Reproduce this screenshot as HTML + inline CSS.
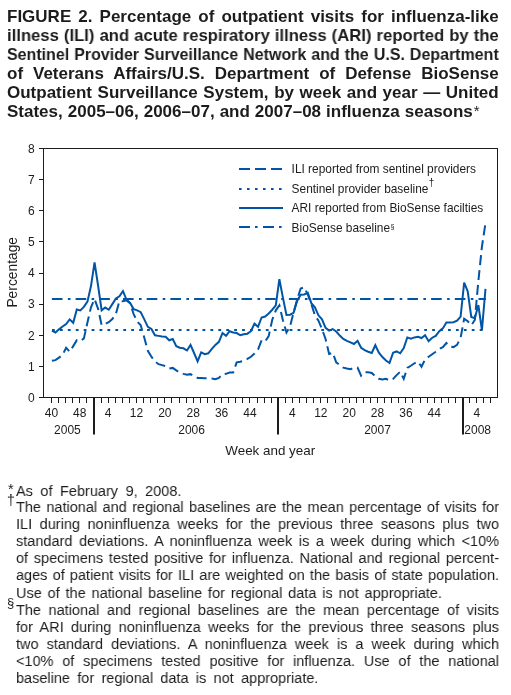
<!DOCTYPE html><html><head><meta charset="utf-8"><style>
html,body{margin:0;padding:0;background:#fff;}
body{width:511px;height:695px;position:relative;overflow:hidden;font-family:"Liberation Sans",sans-serif;color:#1c1c1c;}
svg{position:absolute;left:0;top:0;will-change:transform;}
.tk{font-family:"Liberation Sans",sans-serif;font-size:12px;fill:#1c1c1c;}
.ax{font-family:"Liberation Sans",sans-serif;font-size:13.5px;fill:#1c1c1c;}
.lg{font-family:"Liberation Sans",sans-serif;font-size:11.9px;fill:#1c1c1c;}
.t{position:absolute;will-change:transform;font-weight:bold;font-size:17px;line-height:0;height:0;white-space:nowrap;transform-origin:0 0;}
.f{position:absolute;will-change:transform;font-size:15.5px;line-height:0;height:0;white-space:nowrap;transform-origin:0 0;}
.j{text-align:justify;text-align-last:justify;}
.m{position:absolute;will-change:transform;line-height:0;height:0;}
</style></head><body>
<svg width="511" height="695" viewBox="0 0 511 695"><rect x="43.5" y="148.5" width="454" height="249" fill="none" stroke="#1c1c1c" stroke-width="1"/><line x1="39" y1="397.5" x2="43.5" y2="397.5" stroke="#1c1c1c" stroke-width="1"/><text x="34.6" y="401.8" class="tk" text-anchor="end">0</text><line x1="39" y1="366.5" x2="43.5" y2="366.5" stroke="#1c1c1c" stroke-width="1"/><text x="34.6" y="370.7" class="tk" text-anchor="end">1</text><line x1="39" y1="335.5" x2="43.5" y2="335.5" stroke="#1c1c1c" stroke-width="1"/><text x="34.6" y="339.6" class="tk" text-anchor="end">2</text><line x1="39" y1="304.5" x2="43.5" y2="304.5" stroke="#1c1c1c" stroke-width="1"/><text x="34.6" y="308.4" class="tk" text-anchor="end">3</text><line x1="39" y1="273.5" x2="43.5" y2="273.5" stroke="#1c1c1c" stroke-width="1"/><text x="34.6" y="277.3" class="tk" text-anchor="end">4</text><line x1="39" y1="241.5" x2="43.5" y2="241.5" stroke="#1c1c1c" stroke-width="1"/><text x="34.6" y="246.2" class="tk" text-anchor="end">5</text><line x1="39" y1="210.5" x2="43.5" y2="210.5" stroke="#1c1c1c" stroke-width="1"/><text x="34.6" y="215.1" class="tk" text-anchor="end">6</text><line x1="39" y1="179.5" x2="43.5" y2="179.5" stroke="#1c1c1c" stroke-width="1"/><text x="34.6" y="183.9" class="tk" text-anchor="end">7</text><line x1="39" y1="148.5" x2="43.5" y2="148.5" stroke="#1c1c1c" stroke-width="1"/><text x="34.6" y="152.8" class="tk" text-anchor="end">8</text><line x1="51.5" y1="397.5" x2="51.5" y2="403" stroke="#1c1c1c" stroke-width="1"/><line x1="58.5" y1="397.5" x2="58.5" y2="403" stroke="#1c1c1c" stroke-width="1"/><line x1="65.5" y1="397.5" x2="65.5" y2="403" stroke="#1c1c1c" stroke-width="1"/><line x1="72.5" y1="397.5" x2="72.5" y2="403" stroke="#1c1c1c" stroke-width="1"/><line x1="79.5" y1="397.5" x2="79.5" y2="403" stroke="#1c1c1c" stroke-width="1"/><line x1="86.5" y1="397.5" x2="86.5" y2="403" stroke="#1c1c1c" stroke-width="1"/><line x1="101.5" y1="397.5" x2="101.5" y2="403" stroke="#1c1c1c" stroke-width="1"/><line x1="108.5" y1="397.5" x2="108.5" y2="403" stroke="#1c1c1c" stroke-width="1"/><line x1="115.5" y1="397.5" x2="115.5" y2="403" stroke="#1c1c1c" stroke-width="1"/><line x1="122.5" y1="397.5" x2="122.5" y2="403" stroke="#1c1c1c" stroke-width="1"/><line x1="129.5" y1="397.5" x2="129.5" y2="403" stroke="#1c1c1c" stroke-width="1"/><line x1="136.5" y1="397.5" x2="136.5" y2="403" stroke="#1c1c1c" stroke-width="1"/><line x1="143.5" y1="397.5" x2="143.5" y2="403" stroke="#1c1c1c" stroke-width="1"/><line x1="150.5" y1="397.5" x2="150.5" y2="403" stroke="#1c1c1c" stroke-width="1"/><line x1="157.5" y1="397.5" x2="157.5" y2="403" stroke="#1c1c1c" stroke-width="1"/><line x1="164.5" y1="397.5" x2="164.5" y2="403" stroke="#1c1c1c" stroke-width="1"/><line x1="171.5" y1="397.5" x2="171.5" y2="403" stroke="#1c1c1c" stroke-width="1"/><line x1="179.5" y1="397.5" x2="179.5" y2="403" stroke="#1c1c1c" stroke-width="1"/><line x1="186.5" y1="397.5" x2="186.5" y2="403" stroke="#1c1c1c" stroke-width="1"/><line x1="193.5" y1="397.5" x2="193.5" y2="403" stroke="#1c1c1c" stroke-width="1"/><line x1="200.5" y1="397.5" x2="200.5" y2="403" stroke="#1c1c1c" stroke-width="1"/><line x1="207.5" y1="397.5" x2="207.5" y2="403" stroke="#1c1c1c" stroke-width="1"/><line x1="214.5" y1="397.5" x2="214.5" y2="403" stroke="#1c1c1c" stroke-width="1"/><line x1="221.5" y1="397.5" x2="221.5" y2="403" stroke="#1c1c1c" stroke-width="1"/><line x1="228.5" y1="397.5" x2="228.5" y2="403" stroke="#1c1c1c" stroke-width="1"/><line x1="235.5" y1="397.5" x2="235.5" y2="403" stroke="#1c1c1c" stroke-width="1"/><line x1="242.5" y1="397.5" x2="242.5" y2="403" stroke="#1c1c1c" stroke-width="1"/><line x1="249.5" y1="397.5" x2="249.5" y2="403" stroke="#1c1c1c" stroke-width="1"/><line x1="257.5" y1="397.5" x2="257.5" y2="403" stroke="#1c1c1c" stroke-width="1"/><line x1="264.5" y1="397.5" x2="264.5" y2="403" stroke="#1c1c1c" stroke-width="1"/><line x1="271.5" y1="397.5" x2="271.5" y2="403" stroke="#1c1c1c" stroke-width="1"/><line x1="285.5" y1="397.5" x2="285.5" y2="403" stroke="#1c1c1c" stroke-width="1"/><line x1="292.5" y1="397.5" x2="292.5" y2="403" stroke="#1c1c1c" stroke-width="1"/><line x1="299.5" y1="397.5" x2="299.5" y2="403" stroke="#1c1c1c" stroke-width="1"/><line x1="306.5" y1="397.5" x2="306.5" y2="403" stroke="#1c1c1c" stroke-width="1"/><line x1="313.5" y1="397.5" x2="313.5" y2="403" stroke="#1c1c1c" stroke-width="1"/><line x1="320.5" y1="397.5" x2="320.5" y2="403" stroke="#1c1c1c" stroke-width="1"/><line x1="327.5" y1="397.5" x2="327.5" y2="403" stroke="#1c1c1c" stroke-width="1"/><line x1="335.5" y1="397.5" x2="335.5" y2="403" stroke="#1c1c1c" stroke-width="1"/><line x1="342.5" y1="397.5" x2="342.5" y2="403" stroke="#1c1c1c" stroke-width="1"/><line x1="349.5" y1="397.5" x2="349.5" y2="403" stroke="#1c1c1c" stroke-width="1"/><line x1="356.5" y1="397.5" x2="356.5" y2="403" stroke="#1c1c1c" stroke-width="1"/><line x1="363.5" y1="397.5" x2="363.5" y2="403" stroke="#1c1c1c" stroke-width="1"/><line x1="370.5" y1="397.5" x2="370.5" y2="403" stroke="#1c1c1c" stroke-width="1"/><line x1="377.5" y1="397.5" x2="377.5" y2="403" stroke="#1c1c1c" stroke-width="1"/><line x1="384.5" y1="397.5" x2="384.5" y2="403" stroke="#1c1c1c" stroke-width="1"/><line x1="391.5" y1="397.5" x2="391.5" y2="403" stroke="#1c1c1c" stroke-width="1"/><line x1="398.5" y1="397.5" x2="398.5" y2="403" stroke="#1c1c1c" stroke-width="1"/><line x1="405.5" y1="397.5" x2="405.5" y2="403" stroke="#1c1c1c" stroke-width="1"/><line x1="412.5" y1="397.5" x2="412.5" y2="403" stroke="#1c1c1c" stroke-width="1"/><line x1="420.5" y1="397.5" x2="420.5" y2="403" stroke="#1c1c1c" stroke-width="1"/><line x1="427.5" y1="397.5" x2="427.5" y2="403" stroke="#1c1c1c" stroke-width="1"/><line x1="434.5" y1="397.5" x2="434.5" y2="403" stroke="#1c1c1c" stroke-width="1"/><line x1="441.5" y1="397.5" x2="441.5" y2="403" stroke="#1c1c1c" stroke-width="1"/><line x1="448.5" y1="397.5" x2="448.5" y2="403" stroke="#1c1c1c" stroke-width="1"/><line x1="455.5" y1="397.5" x2="455.5" y2="403" stroke="#1c1c1c" stroke-width="1"/><line x1="469.5" y1="397.5" x2="469.5" y2="403" stroke="#1c1c1c" stroke-width="1"/><line x1="476.5" y1="397.5" x2="476.5" y2="403" stroke="#1c1c1c" stroke-width="1"/><line x1="483.5" y1="397.5" x2="483.5" y2="403" stroke="#1c1c1c" stroke-width="1"/><line x1="490.5" y1="397.5" x2="490.5" y2="403" stroke="#1c1c1c" stroke-width="1"/><line x1="94.00" y1="397" x2="94.00" y2="434.5" stroke="#1c1c1c" stroke-width="2"/><line x1="278.00" y1="397" x2="278.00" y2="434.5" stroke="#1c1c1c" stroke-width="2"/><line x1="463.00" y1="397" x2="463.00" y2="434.5" stroke="#1c1c1c" stroke-width="2"/><text x="51.40" y="417.4" class="tk" text-anchor="middle">40</text><text x="79.76" y="417.4" class="tk" text-anchor="middle">48</text><text x="108.12" y="417.4" class="tk" text-anchor="middle">4</text><text x="136.48" y="417.4" class="tk" text-anchor="middle">12</text><text x="164.84" y="417.4" class="tk" text-anchor="middle">20</text><text x="193.20" y="417.4" class="tk" text-anchor="middle">28</text><text x="221.56" y="417.4" class="tk" text-anchor="middle">36</text><text x="249.92" y="417.4" class="tk" text-anchor="middle">44</text><text x="292.46" y="417.4" class="tk" text-anchor="middle">4</text><text x="320.82" y="417.4" class="tk" text-anchor="middle">12</text><text x="349.18" y="417.4" class="tk" text-anchor="middle">20</text><text x="377.54" y="417.4" class="tk" text-anchor="middle">28</text><text x="405.90" y="417.4" class="tk" text-anchor="middle">36</text><text x="434.26" y="417.4" class="tk" text-anchor="middle">44</text><text x="476.80" y="417.4" class="tk" text-anchor="middle">4</text><text x="67.40" y="434.4" class="tk" text-anchor="middle">2005</text><text x="191.60" y="434.4" class="tk" text-anchor="middle">2006</text><text x="377.50" y="434.4" class="tk" text-anchor="middle">2007</text><text x="477.70" y="434.4" class="tk" text-anchor="middle">2008</text><text x="270.2" y="454.8" class="ax" style="font-size:13.4px" text-anchor="middle">Week and year</text><text transform="translate(16.9,272.3) rotate(-90)" class="ax" style="font-size:13.8px" text-anchor="middle">Percentage</text><line x1="52.0" y1="330" x2="483" y2="330" stroke="#0055a6" stroke-width="2" stroke-dasharray="2.8 5.12"/><line x1="51.9" y1="299" x2="486" y2="299" stroke="#0055a6" stroke-width="2" stroke-dasharray="10.6 5.4 2.6 5.1"/><polyline points="51.90,330.58 55.45,332.45 59.01,329.34 62.56,326.54 66.12,324.05 69.67,319.38 73.22,322.80 76.78,309.42 80.33,310.35 83.89,306.93 87.44,301.63 90.99,286.07 94.55,262.42 98.10,285.76 101.66,310.35 105.21,307.55 108.76,309.73 112.32,304.12 115.87,298.52 119.43,296.34 122.98,291.05 126.53,299.77 130.09,302.88 133.64,309.11 137.20,310.35 140.75,312.22 144.30,319.38 147.86,326.85 151.41,329.02 154.97,335.25 158.52,335.87 162.07,336.50 165.63,336.81 169.18,340.23 172.74,338.99 176.29,346.14 179.84,347.70 183.40,348.32 186.95,350.50 190.51,344.90 194.06,352.99 197.61,361.39 201.17,352.37 204.72,354.24 208.28,353.30 211.83,348.94 215.38,344.90 218.94,341.79 222.49,333.07 226.05,335.87 229.60,331.20 233.15,332.45 236.71,333.07 240.26,335.25 243.82,334.32 247.37,333.69 250.92,331.20 254.48,323.73 258.03,326.85 261.59,317.51 265.14,316.57 268.69,313.46 272.25,309.73 275.80,305.37 279.36,279.23 282.91,297.59 286.46,315.02 290.02,314.71 293.57,312.84 297.13,301.01 300.68,294.79 304.23,294.48 307.79,292.92 311.34,303.19 314.90,307.24 318.45,315.33 322.00,319.38 325.56,327.78 329.11,330.58 332.67,329.02 336.22,331.51 339.77,335.56 343.33,338.99 346.88,340.85 350.44,342.41 353.99,343.97 357.54,340.85 361.10,347.70 364.65,350.19 368.21,351.75 371.76,352.99 375.31,345.21 378.87,352.68 382.42,357.04 385.98,360.46 389.53,362.95 393.08,352.68 396.64,351.44 400.19,353.30 403.75,348.01 407.30,337.43 410.85,338.67 414.41,337.43 417.96,336.81 421.52,338.05 425.07,335.25 428.62,341.16 432.18,337.74 435.73,335.87 439.29,331.20 442.84,328.40 446.39,322.49 449.95,322.49 453.50,322.18 457.06,320.62 460.61,316.57 464.16,282.65 467.72,291.36 471.27,316.89 474.83,318.13 478.38,305.06 481.93,330.27 485.49,288.87" fill="none" stroke="#0055a6" stroke-width="2" stroke-linejoin="miter" stroke-miterlimit="3"/><polyline points="51.90,360.77 55.45,360.15 59.01,357.66 62.56,354.86 66.12,347.70 69.67,351.75 73.22,346.14 76.78,340.23 80.33,341.16 83.89,338.36 87.44,322.49 90.99,307.24 94.55,299.14 98.10,308.79 101.66,325.29 105.21,324.05 108.76,322.18 112.32,319.06 115.87,314.08 119.43,301.01 122.98,301.32 126.53,300.39 130.09,303.19 133.64,314.08 137.20,321.56 140.75,325.29 144.30,337.74 147.86,350.81 151.41,356.73 154.97,361.39 158.52,364.20 162.07,365.13 165.63,366.06 169.18,368.55 172.74,367.93 176.29,370.42 179.84,372.60 183.40,373.85 186.95,374.78 190.51,374.16 194.06,376.02 197.61,377.89 201.17,377.89 204.72,378.20 208.28,378.20 211.83,378.51 215.38,379.14 218.94,377.89 222.49,374.16 226.05,373.85 229.60,372.60 233.15,372.60 236.71,362.33 240.26,361.71 243.82,360.77 247.37,358.90 250.92,356.73 254.48,353.61 258.03,349.57 261.59,340.23 265.14,341.48 268.69,336.18 272.25,319.69 275.80,310.35 279.36,305.37 282.91,320.31 286.46,332.45 290.02,326.54 293.57,312.53 297.13,299.46 300.68,288.56 304.23,287.32 307.79,294.48 311.34,304.12 314.90,315.33 318.45,320.62 322.00,329.02 325.56,338.99 329.11,353.93 332.67,352.68 336.22,362.33 339.77,365.13 343.33,367.62 346.88,368.55 350.44,369.18 353.99,367.93 357.54,367.62 361.10,375.71 364.65,372.29 368.21,372.29 371.76,372.91 375.31,376.33 378.87,378.82 382.42,379.45 385.98,378.82 389.53,380.38 393.08,378.82 396.64,375.09 400.19,371.67 403.75,378.82 407.30,367.93 410.85,365.75 414.41,363.26 417.96,361.71 421.52,366.69 425.07,359.53 428.62,356.73 432.18,354.24 435.73,351.75 439.29,348.94 442.84,347.08 446.39,343.03 449.95,346.45 453.50,347.08 457.06,344.90 460.61,337.74 464.16,318.75 467.72,321.24 471.27,325.29 474.83,320.00 478.38,280.78 481.93,246.54 485.49,223.20" fill="none" stroke="#0055a6" stroke-width="2" stroke-dasharray="10 5" stroke-linejoin="miter" stroke-miterlimit="3"/><line x1="239" y1="169.0" x2="282" y2="169.0" stroke="#0055a6" stroke-width="2" stroke-dasharray="11 5"/><line x1="239" y1="189.0" x2="282" y2="189.0" stroke="#0055a6" stroke-width="2" stroke-dasharray="2.6 5.4"/><line x1="239" y1="208.0" x2="283" y2="208.0" stroke="#0055a6" stroke-width="2"/><line x1="239" y1="227.0" x2="282" y2="227.0" stroke="#0055a6" stroke-width="2" stroke-dasharray="11 5 2.6 5.4"/><text x="291.6" y="172.9" class="lg">ILI reported from sentinel providers</text><text x="291.6" y="192.6" class="lg">Sentinel provider baseline<tspan dx="0.4" dy="-6.5" font-size="10">&#8224;</tspan></text><text x="291.6" y="211.9" class="lg">ARI reported from BioSense facilties</text><text x="291.6" y="232.2" class="lg">BioSense baseline<tspan dx="0.3" dy="-3.6" font-size="7.2">&#167;</tspan></text></svg>
<div class="t j" style="left:7.30px;top:17.01px;width:491.70px;transform:scaleX(1.000);">FIGURE 2. Percentage of outpatient visits for influenza-like</div>
<div class="t j" style="left:7.30px;top:36.01px;width:501.73px;transform:scaleX(0.980);">illness (ILI) and acute respiratory illness (ARI) reported by the</div>
<div class="t j" style="left:7.30px;top:55.11px;width:523.09px;transform:scaleX(0.940);">Sentinel Provider Surveillance Network and the U.S. Department</div>
<div class="t j" style="left:7.30px;top:74.01px;width:491.70px;transform:scaleX(1.000);">of Veterans Affairs/U.S. Department of Defense BioSense</div>
<div class="t j" style="left:7.30px;top:93.01px;width:491.70px;transform:scaleX(1.000);">Outpatient Surveillance System, by week and year &#8212; United</div>
<div class="t" style="left:7.30px;top:112.01px;word-spacing:0.3px;">States, 2005&#8211;06, 2006&#8211;07, and 2007&#8211;08 influenza seasons<span style="font-weight:normal;font-size:15px;position:relative;left:0.8px;top:-1px">*</span></div>
<div class="f" style="left:16.20px;top:490.63px;word-spacing:3.73px;transform:scaleX(0.935);">As of February 9, 2008.</div>
<div class="f j" style="left:16.20px;top:507.33px;width:516.58px;transform:scaleX(0.935);">The national and regional baselines are the mean percentage of visits for</div>
<div class="f j" style="left:16.20px;top:524.03px;width:516.58px;transform:scaleX(0.935);">ILI during noninfluenza weeks for the previous three seasons plus two</div>
<div class="f j" style="left:16.20px;top:541.03px;width:516.58px;transform:scaleX(0.935);">standard deviations. A noninfluenza week is a week during which &lt;10%</div>
<div class="f j" style="left:16.20px;top:558.23px;width:516.58px;transform:scaleX(0.935);">of specimens tested positive for influenza. National and regional percent-</div>
<div class="f j" style="left:16.20px;top:575.13px;width:516.58px;transform:scaleX(0.935);">ages of patient visits for ILI are weighted on the basis of state population.</div>
<div class="f" style="left:16.20px;top:592.73px;word-spacing:1.95px;transform:scaleX(0.935);">Use of the national baseline for regional data is not appropriate.</div>
<div class="f j" style="left:16.20px;top:610.03px;width:516.58px;transform:scaleX(0.935);">The national and regional baselines are the mean percentage of visits</div>
<div class="f j" style="left:16.20px;top:626.83px;width:516.58px;transform:scaleX(0.935);">for ARI during noninfluenza weeks for the previous three seasons plus</div>
<div class="f j" style="left:16.20px;top:643.73px;width:516.58px;transform:scaleX(0.935);">two standard deviations. A noninfluenza week is a week during which</div>
<div class="f j" style="left:16.20px;top:660.63px;width:516.58px;transform:scaleX(0.935);">&lt;10% of specimens tested positive for influenza. Use of the national</div>
<div class="f" style="left:16.20px;top:677.63px;word-spacing:3.49px;transform:scaleX(0.935);">baseline for regional data is not appropriate.</div>
<div class="m" style="left:7.6px;top:489.2px;font-size:14.5px;">*</div>
<div class="m" style="left:7.4px;top:500.3px;font-size:14px;">&#8224;</div>
<div class="m" style="left:7.4px;top:602.8px;font-size:13px;">&#167;</div>
</body></html>
